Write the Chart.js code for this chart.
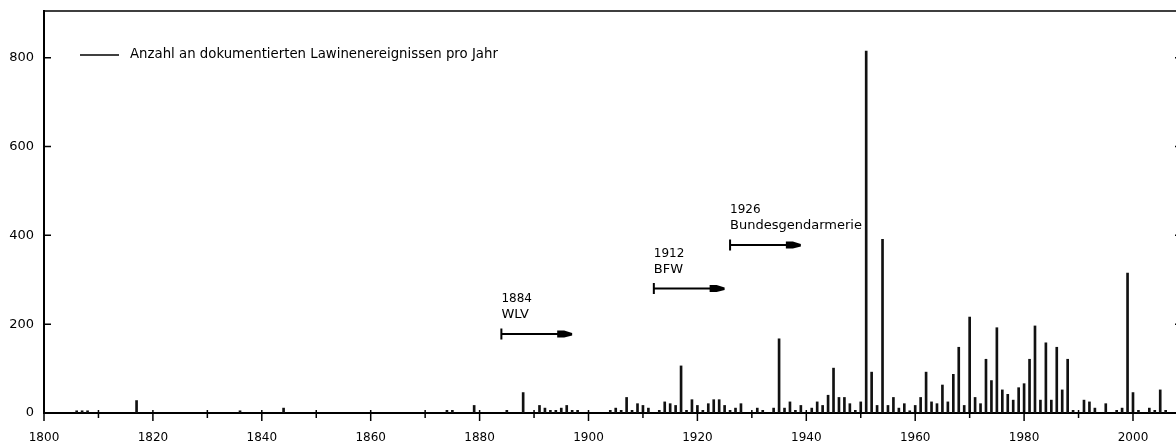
<!DOCTYPE html>
<html>
<head>
<meta charset="utf-8">
<script src="https://cdn.jsdelivr.net/npm/chart.js@4.4.1/dist/chart.umd.min.js"></script>
<style>
  html, body { margin: 0; padding: 0; background: #fff; overflow: hidden; }
  #wrap { width: 1190px; height: 444px; }
</style>
</head>
<body>
<div id="wrap"><canvas id="chart" width="1190" height="444"></canvas></div>
<script>
// Jahre mit dokumentierten Lawinenereignissen und deren Anzahl
const years = [
  1806, 1807, 1808, 1817, 1836, 1844, 1874, 1875, 1879, 1885, 1888,
  1891, 1892, 1893, 1894, 1895, 1896, 1897, 1898,
  1904, 1905, 1906, 1907, 1908, 1909, 1910, 1911, 1913, 1914, 1915, 1916, 1917, 1918, 1919,
  1920, 1921, 1922, 1923, 1924, 1925, 1926, 1927, 1928, 1931, 1932, 1934, 1935, 1936, 1937, 1938, 1939,
  1941, 1942, 1943, 1944, 1945, 1946, 1947, 1948, 1949, 1950, 1951, 1952, 1953, 1954, 1955, 1956, 1957, 1958, 1959,
  1960, 1961, 1962, 1963, 1964, 1965, 1966, 1967, 1968, 1969, 1970, 1971, 1972, 1973, 1974, 1975, 1976, 1977, 1978, 1979,
  1980, 1981, 1982, 1983, 1984, 1985, 1986, 1987, 1988, 1989, 1991, 1992, 1993, 1995, 1997, 1998, 1999,
  2000, 2001, 2003, 2004, 2005, 2006
];
const counts = [
  5, 5, 5, 28, 5, 11, 6, 6, 17, 6, 46,
  17, 11, 6, 6, 11, 17, 6, 6,
  6, 11, 6, 35, 6, 21, 17, 11, 6, 25, 21, 17, 106, 6, 30,
  17, 6, 21, 30, 30, 17, 6, 11, 21, 11, 6, 11, 167, 11, 25, 6, 17,
  11, 25, 17, 40, 101, 35, 35, 21, 6, 25, 815, 92, 17, 391, 17, 35, 11, 21, 5,
  17, 35, 92, 25, 21, 63, 25, 87, 148, 17, 216, 35, 21, 121, 73, 192, 52, 42, 29, 57,
  66, 121, 196, 29, 158, 29, 148, 52, 121, 6, 29, 25, 11, 21, 6, 11, 315,
  46, 6, 11, 6, 52, 6
];

const legendLabel = 'Anzahl an dokumentierten Lawinenereignissen pro Jahr';

// Beginn der Dokumentation durch die jeweilige Institution
const markerYears = [1884, 1912, 1926];
const markerEnds = [1897, 1925, 1939];
const markerLevels = [178, 280, 378];
const markerNames = ['WLV', 'BFW', 'Bundesgendarmerie'];

const DIGIT_FONT = '12px "DejaVu Sans"';
const TEXT_FONT = '13px "DejaVu Sans"';
const LEGEND_FONT = '13.3px "DejaVu Sans"';

/**
 * Rahmen, Achsenstriche, Pfeile und Legende zeichnen
 */
const decorations = {
  id: 'decorations',
  afterDatasetsDraw( chart ) {
    const { ctx, chartArea: a, scales: { x, y } } = chart;
    ctx.save();
    ctx.strokeStyle = '#000';
    ctx.fillStyle = '#000';

    // oberer und rechter Rahmen
    ctx.lineWidth = 1.5;
    ctx.beginPath();
    ctx.moveTo( a.left, a.top );
    ctx.lineTo( a.right, a.top );
    ctx.lineTo( a.right, a.bottom );
    ctx.stroke();

    // x-Achsenstriche (alle 10 Jahre, Beschriftung alle 20)
    for ( let yr = 1800; yr <= 2000; yr += 10 ) {
      const px = x.getPixelForValue( yr );
      const major = ( yr % 20 ) === 0;
      ctx.beginPath();
      ctx.moveTo( px, a.bottom - 3 );
      ctx.lineTo( px, a.bottom + ( major ? 8 : 5 ) );
      ctx.stroke();
    }

    // y-Achsenstriche links und rechts nach innen
    for ( let v = 0; v <= 800; v += 200 ) {
      const py = y.getPixelForValue( v );
      ctx.beginPath();
      ctx.moveTo( a.left, py );
      ctx.lineTo( a.left + 7, py );
      ctx.moveTo( a.right - 7, py );
      ctx.lineTo( a.right, py );
      ctx.stroke();
    }

    // Pfeile für den Beginn der Dokumentation
    ctx.textAlign = 'left';
    ctx.textBaseline = 'middle';
    markerYears.forEach( ( yr, i ) => {
      const x0 = x.getPixelForValue( yr );
      const x1 = x.getPixelForValue( markerEnds[ i ] );
      const py = y.getPixelForValue( markerLevels[ i ] );
      ctx.lineWidth = 2;
      ctx.beginPath();
      ctx.moveTo( x0, py - 5.5 );
      ctx.lineTo( x0, py + 5.5 );
      ctx.moveTo( x0, py );
      ctx.lineTo( x1 - 10, py );
      ctx.stroke();
      ctx.beginPath();
      ctx.moveTo( x1 - 15, py - 3.5 );
      ctx.lineTo( x1 - 8, py - 3.5 );
      ctx.lineTo( x1, py - 1 );
      ctx.lineTo( x1, py + 1.5 );
      ctx.lineTo( x1 - 8, py + 3.5 );
      ctx.lineTo( x1 - 15, py + 3.5 );
      ctx.closePath();
      ctx.fill();
      ctx.font = DIGIT_FONT;
      ctx.fillText( String( yr ), x0, py - 35 );
      ctx.font = TEXT_FONT;
      ctx.fillText( markerNames[ i ], x0, py - 19 );
    } );

    // Legende
    const ly = a.top + 44;
    ctx.lineWidth = 1.5;
    ctx.beginPath();
    ctx.moveTo( a.left + 36, ly );
    ctx.lineTo( a.left + 75, ly );
    ctx.stroke();
    ctx.font = LEGEND_FONT;
    ctx.fillText( legendLabel, a.left + 86, ly );

    ctx.restore();
  },
};

new Chart( document.getElementById( 'chart' ), {
  type: 'bar',
  data: {
    datasets: [
      {
        label: legendLabel,
        data: years.map( ( yr, i ) => ( { x: yr, y: counts[ i ] } ) ),
        backgroundColor: '#111',
        barThickness: 2,
      },
    ],
  },
  options: {
    responsive: false,
    animation: false,
    layout: { padding: { top: 11, right: 8, left: 0, bottom: 0 } },
    plugins: {
      legend: { display: false },
      tooltip: { enabled: false },
    },
    scales: {
      x: {
        type: 'linear',
        min: 1800,
        max: 2009,
        offset: false,
        grid: { display: false, drawTicks: false },
        border: { display: true, color: '#000', width: 2 },
        ticks: {
          stepSize: 20,
          includeBounds: false,
          autoSkip: false,
          maxRotation: 0,
          padding: 18,
          color: '#000',
          font: { family: 'DejaVu Sans', size: 12 },
          callback: ( v ) => String( v ),
        },
        afterFit: ( s ) => {
          s.height = 31;
          s.paddingLeft = 0;
          s.paddingRight = 0;
        },
      },
      y: {
        min: 0,
        max: 905,
        grid: { display: false, drawTicks: false },
        border: { display: true, color: '#000', width: 2 },
        ticks: {
          stepSize: 200,
          includeBounds: false,
          padding: 10,
          color: '#000',
          font: { family: 'DejaVu Sans', size: 13 },
          callback: ( v ) => String( v ),
        },
        afterFit: ( s ) => {
          s.width = 44;
          s.paddingTop = 0;
          s.paddingBottom = 0;
        },
      },
    },
  },
  plugins: [ decorations ],
} );
</script>
</body>
</html>
